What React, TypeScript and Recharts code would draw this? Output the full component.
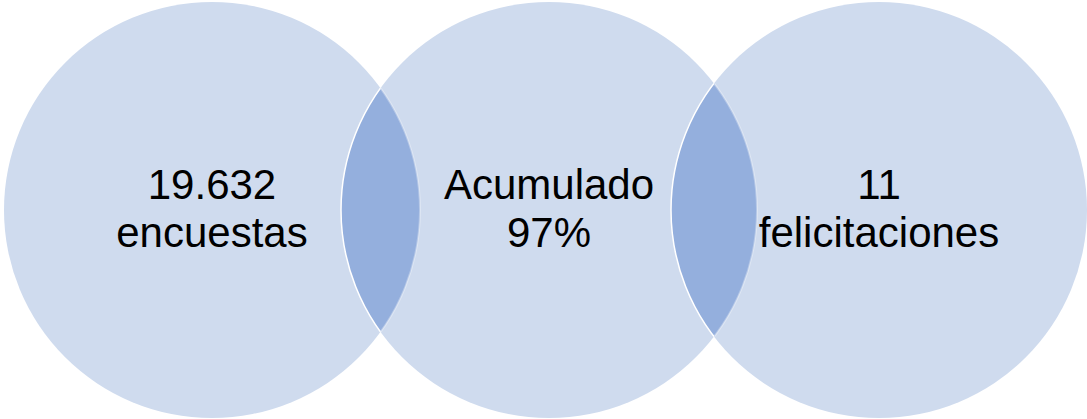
import { ScatterChart, Scatter, XAxis, YAxis } from "recharts";

const W = 1087;
const H = 419;

// three overlapping circles (px units)
const names = ["encuestas", "acumulado", "felicitaciones"];
const centersX = [212, 549, 879];
const centersY = [209, 209, 209];
const radii = [208, 208, 208];
const line1 = ["19.632", "Acumulado", "11"];
const line2 = ["encuestas", "97%", "felicitaciones"];

const circles = names.map((name, i) => ({
  name,
  x: centersX[i],
  y: centersY[i],
  r: radii[i],
  line1: line1[i],
  line2: line2[i]
}));

// each overlap = circle i+1 intersected with circle i
const overlaps = circles.slice(1).map((c, i) => ({
  id: i,
  x: c.x,
  y: c.y,
  r: c.r,
  px: circles[i].x,
  py: circles[i].y,
  pr: circles[i].r
}));

const k = W / W; // px per data unit (domain 0..W over width W, no margins)

const CircleShape = (props: any) => {
  const { cx, cy, payload } = props;
  return <circle cx={cx} cy={cy} r={payload.r * k} fill="#CFDBEE" />;
};

const LensShape = (props: any) => {
  const { cx, cy, payload } = props;
  const pcx = cx + (payload.px - payload.x) * k;
  const pcy = cy - (payload.py - payload.y) * k;
  const idA = `clipA-${payload.id}`;
  const idB = `clipB-${payload.id}`;
  return (
    <g>
      <defs>
        <clipPath id={idA}>
          <circle cx={pcx} cy={pcy} r={payload.pr * k} />
        </clipPath>
        <clipPath id={idB}>
          <circle cx={cx} cy={cy} r={payload.r * k} />
        </clipPath>
      </defs>
      <circle cx={cx} cy={cy} r={payload.r * k} fill="#94AFDD" clipPath={`url(#${idA})`} />
      <circle
        cx={cx}
        cy={cy}
        r={payload.r * k}
        fill="none"
        stroke="#FFFFFF"
        strokeWidth={1.5}
        clipPath={`url(#${idA})`}
      />
      <circle
        cx={pcx}
        cy={pcy}
        r={payload.pr * k}
        fill="none"
        stroke="#FFFFFF"
        strokeOpacity={0.3}
        strokeWidth={2}
        clipPath={`url(#${idB})`}
      />
    </g>
  );
};

const LabelShape = (props: any) => {
  const { cx, cy, payload } = props;
  return (
    <text
      x={cx}
      y={cy}
      textAnchor="middle"
      fill="#000000"
      fontFamily="'Liberation Sans', Arial, sans-serif"
      fontSize={42}
    >
      <tspan x={cx} dy={-11}>
        {payload.line1}
      </tspan>
      <tspan x={cx} dy={48}>
        {payload.line2}
      </tspan>
    </text>
  );
};

export default function App() {
  return (
    <div style={{ position: "absolute", left: 0, top: 0 }}>
      <ScatterChart width={W} height={H} margin={{ top: 0, right: 0, bottom: 0, left: 0 }}>
        <XAxis type="number" dataKey="x" domain={[0, W]} hide />
        <YAxis type="number" dataKey="y" domain={[0, H]} hide />
        <Scatter data={circles} shape={CircleShape} isAnimationActive={false} />
        <Scatter data={overlaps} shape={LensShape} isAnimationActive={false} />
        <Scatter data={circles} shape={LabelShape} isAnimationActive={false} />
      </ScatterChart>
    </div>
  );
}
